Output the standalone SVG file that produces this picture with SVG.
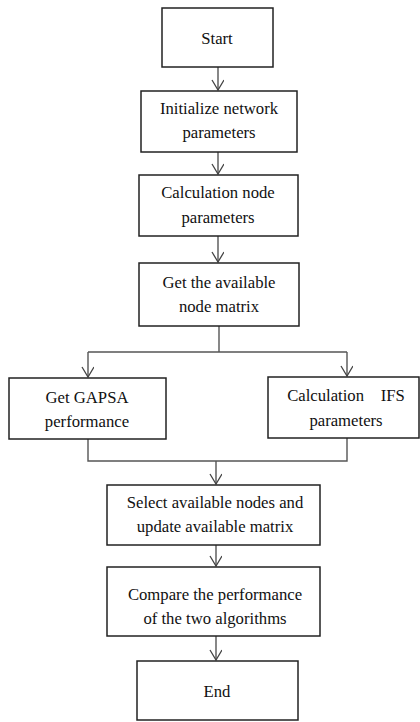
<svg xmlns="http://www.w3.org/2000/svg" width="420" height="722" viewBox="0 0 420 722">
<style>
.box{fill:#fff;stroke:#222;stroke-width:1.5}
.t{font-family:"Liberation Serif","Times New Roman",serif;font-size:16.7px;fill:#111;text-anchor:middle}
.c{fill:none;stroke:#555;stroke-width:1.4}
</style>
<defs>
<marker id="ah" markerWidth="14" markerHeight="14" refX="11" refY="6" orient="auto" markerUnits="userSpaceOnUse">
<path d="M1,0 L11,6 L1,12" fill="none" stroke="#444" stroke-width="1.3"/>
</marker>
</defs>
<rect width="420" height="722" fill="#fff"/>
<g id="connectors">
<path class="c" d="M218,67 V90" marker-end="url(#ah)"/>
<path class="c" d="M218,152 V174" marker-end="url(#ah)"/>
<path class="c" d="M218,236 V262" marker-end="url(#ah)"/>
<path class="c" d="M219,326 V352"/>
<path class="c" d="M88,352 H347"/>
<path class="c" d="M88,352 V377" marker-end="url(#ah)"/>
<path class="c" d="M347,352 V376" marker-end="url(#ah)"/>
<path class="c" d="M88,439 V461 H347 V438"/>
<path class="c" d="M216,461 V484" marker-end="url(#ah)"/>
<path class="c" d="M216,545 V566" marker-end="url(#ah)"/>
<path class="c" d="M216,636 V660" marker-end="url(#ah)"/>
</g>
<g id="start"><rect class="box" x="162" y="8" width="111" height="59"/><text class="t" x="217" y="44">Start</text></g>
<g id="init"><rect class="box" x="141" y="91" width="156" height="61"/><text class="t" x="219" y="114">Initialize network</text><text class="t" x="219" y="138">parameters</text></g>
<g id="calc"><rect class="box" x="139" y="175" width="159" height="61"/><text class="t" x="218" y="198">Calculation node</text><text class="t" x="218" y="223">parameters</text></g>
<g id="getmatrix"><rect class="box" x="139" y="263" width="160" height="63"/><text class="t" x="219" y="288">Get the available</text><text class="t" x="219" y="312">node matrix</text></g>
<g id="gapsa"><rect class="box" x="9" y="378" width="157" height="61"/><text class="t" x="87" y="403">Get GAPSA</text><text class="t" x="87" y="427">performance</text></g>
<g id="ifs"><rect class="box" x="268" y="377" width="151" height="61"/><text class="t" x="346" y="401" xml:space="preserve">Calculation    IFS</text><text class="t" x="346" y="426">parameters</text></g>
<g id="select"><rect class="box" x="107" y="485" width="213" height="60"/><text class="t" x="215" y="508">Select available nodes and</text><text class="t" x="215" y="532">update available matrix</text></g>
<g id="compare"><rect class="box" x="107" y="567" width="213" height="69"/><text class="t" x="215" y="600">Compare the performance</text><text class="t" x="215" y="624">of the two algorithms</text></g>
<g id="end"><rect class="box" x="137" y="661" width="161" height="59"/><text class="t" x="217" y="697">End</text></g>
</svg>
